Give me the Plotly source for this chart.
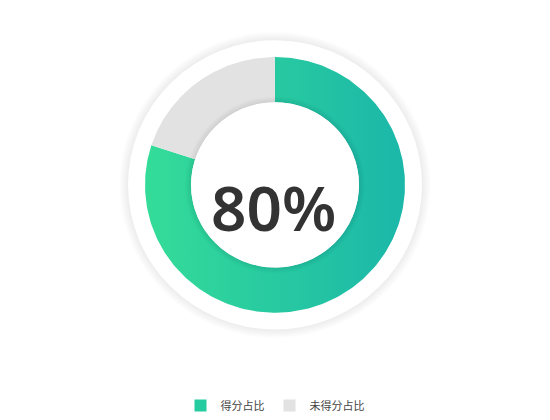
import numpy as np
import plotly.graph_objects as go

# score share data
labels = ["得分占比", "未得分占比"]
values = [80, 20]
center_text = "80%"

GRAD_LEFT = "#34dc98"
GRAD_RIGHT = "#1bb7a9"
GRAY = "#e2e2e2"

# ring geometry (pixel-like axes, y pointing down)
CX, CY = 275, 188
R_OUT, R_IN = 130, 84
R_PLATE = 147


def arc_polygon(t0, t1, r_out, r_in, n=240):
    """Closed ring-segment path from fraction t0 to t1 (clockwise from 12 o'clock)."""
    a = np.linspace(t0, t1, n) * 2 * np.pi
    xo = CX + r_out * np.sin(a)
    yo = CY - r_out * np.cos(a)
    xi = CX + r_in * np.sin(a[::-1])
    yi = CY - r_in * np.cos(a[::-1])
    x = np.concatenate([xo, xi, xo[:1]])
    y = np.concatenate([yo, yi, yo[:1]])
    return x, y


fig = go.Figure()

total = sum(values)
fracs = np.cumsum([0] + values) / total

# scored part with horizontal gradient
x, y = arc_polygon(fracs[0], fracs[1], R_OUT, R_IN)
fig.add_trace(go.Scatter(
    x=x, y=y, mode="lines", line=dict(width=0), fill="toself",
    fillgradient=dict(type="horizontal",
                      colorscale=[[0, GRAD_LEFT], [1, GRAD_RIGHT]]),
    hoverinfo="skip", showlegend=False,
))
# remaining part
x, y = arc_polygon(fracs[1], fracs[2], R_OUT, R_IN)
fig.add_trace(go.Scatter(
    x=x, y=y, mode="lines", line=dict(width=0), fill="toself",
    fillcolor=GRAY, hoverinfo="skip", showlegend=False,
))

# legend entries
fig.add_trace(go.Scatter(
    x=[None], y=[None], mode="markers", name=labels[0],
    marker=dict(symbol="square", size=12, color="#27cba0"),
))
fig.add_trace(go.Scatter(
    x=[None], y=[None], mode="markers", name=labels[1],
    marker=dict(symbol="square", size=12, color=GRAY),
))

shapes = []
# soft shadow around the white plate
for k in range(9, 0, -1):
    r = R_PLATE + k
    shapes.append(dict(type="circle", layer="below", line_width=0,
                       fillcolor="rgba(0,0,0,0.009)",
                       x0=CX - r, x1=CX + r, y0=CY - r, y1=CY + r))
shapes.append(dict(type="circle", layer="below", line_width=0, fillcolor="white",
                   x0=CX - R_PLATE, x1=CX + R_PLATE,
                   y0=CY - R_PLATE, y1=CY + R_PLATE))
# faint inner shadow along the hole
for k in range(6, 0, -1):
    r = R_IN + k
    shapes.append(dict(type="circle", layer="above", line_width=0,
                       fillcolor="rgba(0,0,0,0.012)",
                       x0=CX - r, x1=CX + r, y0=CY - r, y1=CY + r))
shapes.append(dict(type="circle", layer="above", line_width=0, fillcolor="white",
                   x0=CX - R_IN, x1=CX + R_IN, y0=CY - R_IN, y1=CY + R_IN))

fig.update_layout(
    width=550, height=420,
    margin=dict(l=0, r=0, t=0, b=0),
    paper_bgcolor="white", plot_bgcolor="white",
    font=dict(family="Noto Sans CJK SC, Noto Sans, sans-serif", color="#555"),
    xaxis=dict(range=[0, 550], visible=False, fixedrange=True),
    yaxis=dict(range=[420, 0], visible=False, fixedrange=True),
    shapes=shapes,
    annotations=[dict(
        x=CX - 2, y=211, xref="x", yref="y", text=center_text, showarrow=False,
        font=dict(size=62, color="#333", family="Noto Sans, sans-serif", weight=600),
    )],
    legend=dict(orientation="h", x=0.5, xanchor="center", y=0.017, yanchor="middle",
                font=dict(size=11, color="#444"), itemwidth=30),
    showlegend=True,
)

fig.write_html("out.html", config={"displayModeBar": False},
               post_script="document.body.style.margin='0';")
